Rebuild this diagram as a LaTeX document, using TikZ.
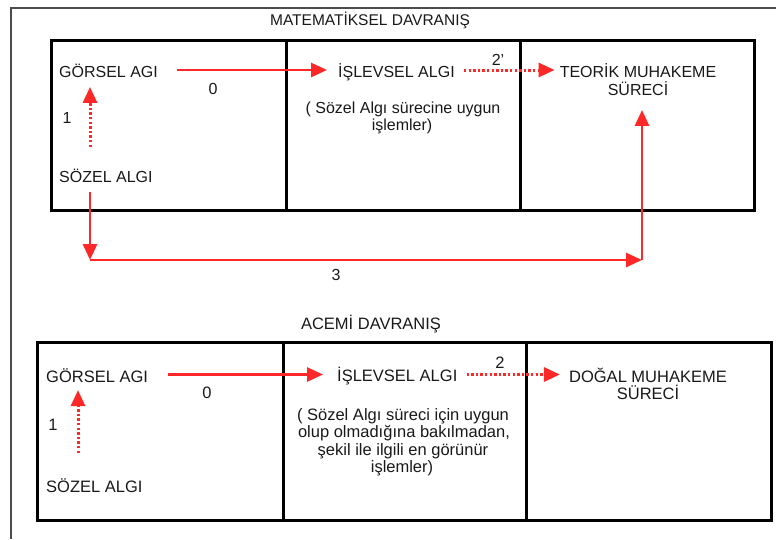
\documentclass[tikz,border=0pt]{standalone}
\usepackage{fontspec}
\setmainfont{Liberation Sans}
\usetikzlibrary{arrows.meta}
\definecolor{arrred}{RGB}{255,40,40}
\definecolor{txt}{RGB}{25,25,25}
\begin{document}
\begin{tikzpicture}[x=1pt,y=-1pt,
 lbl/.style={inner sep=0pt, text height=11.5pt, text depth=0pt, text=txt, font=\fontsize{16}{18}\selectfont},
 lblb/.style={inner sep=0pt, text height=11.8pt, text depth=0pt, text=txt, font=\fontsize{16.5}{18}\selectfont},
 ln/.style={inner sep=0pt, anchor=base, text=txt, font=\fontsize{16}{18}\selectfont},
 lnb/.style={inner sep=0pt, anchor=base, text=txt, font=\fontsize{16.5}{18}\selectfont},
 boxline/.style={line width=3pt, draw=black},
 arr/.style={draw=arrred, line width=2.8pt, -{Triangle[length=16pt,width=14pt]}},
 darr/.style={draw=arrred, line width=3pt, dash pattern=on 2.4pt off 2.2pt, -{Triangle[length=16pt,width=14pt]}},
]
\useasboundingbox (0,0) rectangle (776,539);
\draw[line width=1.6pt, draw=black!70] (776,8) -- (11,8) -- (11,539);

% ---------- top panel ----------
\node[ln, font=\fontsize{15.5}{18}\selectfont] (title1) at (370,25.5) {MATEMATİKSEL DAVRANIŞ};
\draw[boxline] (51,40) rectangle (754,210);
\draw[boxline] (286,40) -- (286,210);
\draw[boxline] (520,40) -- (520,210);

\node[lbl, anchor=west] (g1) at (59,72) {GÖRSEL AGI};
\node[lbl, anchor=west] (s1) at (59,177) {SÖZEL ALGI};
\node[lbl, anchor=west] (i1) at (338,72) {İŞLEVSEL ALGI};
\node[lbl] (t1) at (638,72) {TEORİK MUHAKEME};
\node[lbl] (t1b) at (638,90) {SÜRECİ};
\node[ln] (p1a) at (403,113) {( Sözel Algı sürecine uygun};
\node[ln] (p1b) at (402,130) {işlemler)};

\node[lbl] (n0a) at (213,89) {0};
\node[lbl] (n1a) at (67,118) {1};
\node[lbl] (n2a) at (498,60) {2’};
\node[lbl] (n3) at (336,275) {3};

\draw[arr] ([xshift=19pt,yshift=2pt]g1.east) -- ([xshift=-11pt,yshift=2pt]i1.west);
\draw[darr] ([xshift=9pt,yshift=2pt]i1.east) -- ([xshift=-5pt,yshift=2pt]t1.west);
\draw[darr, shorten <=24pt, shorten >=9pt] ([xshift=31pt]s1.north west) -- ([xshift=31pt]g1.south west);
\coordinate (c3a) at (90,260);
\coordinate (c3b) at (642,260);
\draw[arr] ([xshift=31pt,yshift=-9pt]s1.south west) -- (c3a);
\draw[arr] (c3a) -- (c3b);
\draw[arr, shorten >=14pt] (c3b) -- (c3b |- t1b.south);

% ---------- bottom panel ----------
\node[lnb] (title2) at (371,329) {ACEMİ DAVRANIŞ};
\draw[boxline] (37,342) rectangle (771,520);
\draw[boxline] (283,342) -- (283,520);
\draw[boxline] (526,342) -- (526,520);

\node[lblb, anchor=west] (g2) at (46,377) {GÖRSEL AGI};
\node[lblb, anchor=west] (s2) at (46,487) {SÖZEL ALGI};
\node[lblb, anchor=west] (i2) at (337,376) {İŞLEVSEL ALGI};
\node[lblb] (d2) at (648,377) {DOĞAL MUHAKEME};
\node[lblb] (d2b) at (648,394) {SÜRECİ};
\node[lnb] (p2a) at (403,420) {( Sözel Algı süreci için uygun};
\node[lnb] (p2b) at (404,437) {olup olmadığına bakılmadan,};
\node[lnb] (p2c) at (403,455) {şekil ile ilgili en görünür};
\node[lnb] (p2d) at (402,472) {işlemler)};

\node[lblb] (n0b) at (207,393) {0};
\node[lblb] (n1b) at (53,425) {1};
\node[lblb] (n2b) at (500,363) {2};

\draw[arr] ([xshift=20pt,yshift=2.5pt]g2.east) -- ([xshift=-14pt,yshift=1.5pt]i2.west);
\draw[darr] ([xshift=9pt,yshift=1.5pt]i2.east) -- ([xshift=-9pt,yshift=2.5pt]d2.west);
\draw[darr, shorten <=28pt, shorten >=7pt] ([xshift=32pt]s2.north west) -- ([xshift=32pt]g2.south west);
\end{tikzpicture}
\end{document}
